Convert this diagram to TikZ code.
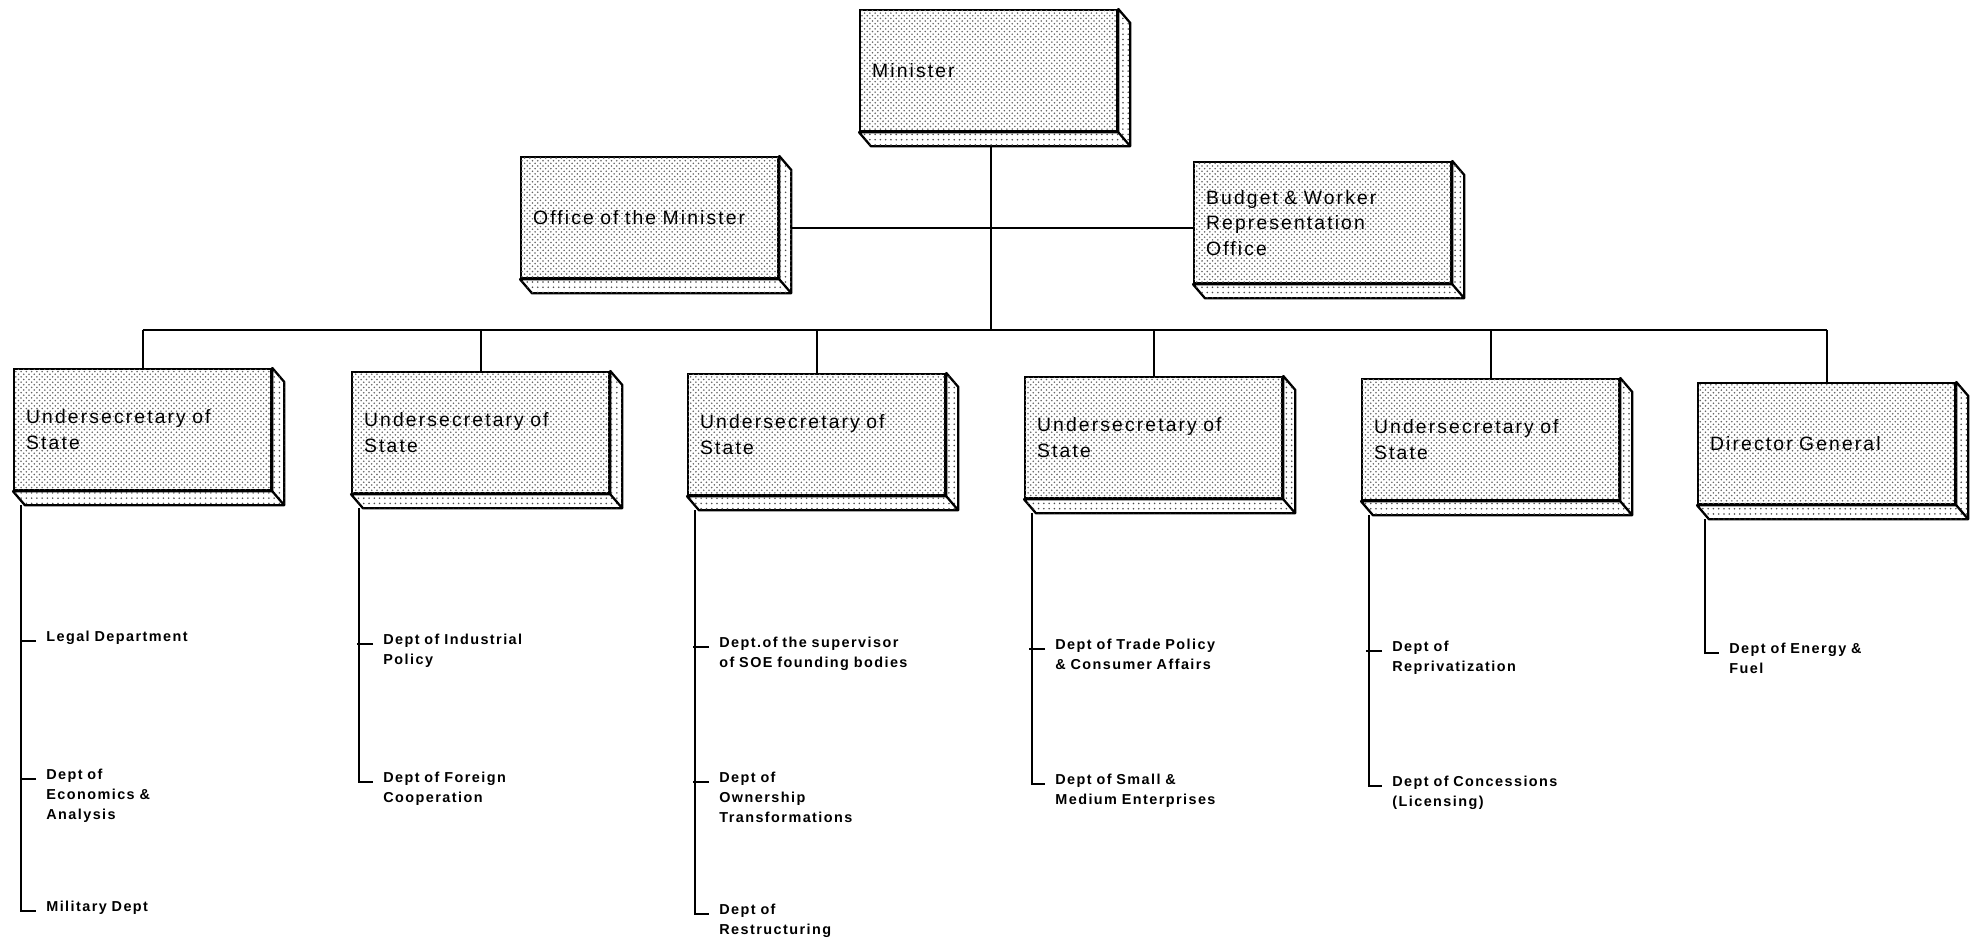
\documentclass[tikz,border=0pt]{standalone}
\usepackage{fontspec}
\setmainfont{Liberation Sans}
\newfontfamily\boxfont[LetterSpace=11]{Liberation Sans}
\newfontfamily\deptfont[LetterSpace=10]{Liberation Sans}
\usetikzlibrary{calc,patterns}

\tikzset{
  orgbox/.style={draw, line width=1.3pt, fill=white,
    postaction={pattern=crosshatch dots, pattern color=black!60},
    anchor=north west, minimum width=51.4mm, minimum height=24.2mm,
    text width=46.6mm, inner xsep=2.4mm, align=left,
    font=\boxfont\fontsize{11}{14.5}\selectfont},
  slab/.style={draw, line width=1.3pt, line join=round, fill=white,
    postaction={pattern=dots, pattern color=black!70}},
  link/.style={line width=1pt},
  deptline/.style={line width=1.3pt},
  dept/.style={anchor=base west, inner sep=0pt, text width=45mm, align=left,
    font=\deptfont\bfseries\fontsize{8.2}{11.4}\selectfont}
}

\begin{document}
\begin{tikzpicture}[x=0.2mm, y=-0.2mm]
  \useasboundingbox (0,0) rectangle (1977,941);

  % top level
  \node[orgbox] (min) at (859,9) {Minister};
  \node[orgbox] (off) at (520,156) {Office of the Minister};
  \node[orgbox] (bud) at (1193,161) {Budget \& Worker\\Representation\\Office};

  % second level
  \node[orgbox] (us1) at (13,368) {Undersecretary of\\State};
  \node[orgbox] (us2) at (351,371) {Undersecretary of\\State};
  \node[orgbox] (us3) at (687,373) {Undersecretary of\\State};
  \node[orgbox] (us4) at (1024,376) {Undersecretary of\\State};
  \node[orgbox] (us5) at (1361,378) {Undersecretary of\\State};
  \node[orgbox] (dg) at (1697,382) {Director General};

  % depth of the boxes
  \foreach \n in {min,off,bud,us1,us2,us3,us4,us5,dg}{
    \draw[slab] (\n.south west) -- ++(12,14) -| ($(\n.north east)+(12,14)$)
      -- (\n.north east) -- (\n.south east) -- cycle;
    \draw[deptline] (\n.south east) -- ++(12,14);
  }

  % connectors
  \coordinate (mid) at (991,228);
  \coordinate (bus) at (991,330);
  \draw[link] ($(bus |- min.south)+(0,14)$) -- (bus);
  \draw[link] ($(off.east |- mid)+(12,0)$) -- (bud.west |- mid);
  \draw[link] (us1.north |- bus) -- (dg.north |- bus);
  \foreach \n in {us1,us2,us3,us4,us5,dg}
    \draw[link] (\n.north |- bus) -- (\n.north);

  % departments
  \node[dept] (legal) at (46,641) {Legal Department};
  \node[dept] (econ) at (46,779) {Dept of\\Economics \&\\Analysis};
  \node[dept] (mil) at (46,911) {Military Dept};

  \node[dept] (indu) at (383,644) {Dept of Industrial\\Policy};
  \node[dept] (forg) at (383,782) {Dept of Foreign\\Cooperation};

  \node[dept] (soe) at (719,647) {Dept.of the supervisor\\of SOE founding bodies};
  \node[dept] (own) at (719,782) {Dept of\\Ownership\\Transformations};
  \node[dept] (restr) at (719,914) {Dept of\\Restructuring};

  \node[dept] (trade) at (1055,649) {Dept of Trade Policy\\\& Consumer Affairs};
  \node[dept] (sme) at (1055,784) {Dept of Small \&\\Medium Enterprises};

  \node[dept] (repr) at (1392,651) {Dept of\\Reprivatization};
  \node[dept] (conc) at (1392,786) {Dept of Concessions\\(Licensing)};

  \node[dept] (fuel) at (1729,653) {Dept of Energy \&\\Fuel};

  % department lines
  \draw[deptline] ($(us1.south west)+(8,14)$) |- ($(mil.base west)+(-10,0)$);
  \draw[deptline] ($(us2.south west)+(8,14)$) |- ($(forg.base west)+(-10,0)$);
  \draw[deptline] ($(us3.south west)+(8,14)$) |- ($(restr.base west)+(-10,0)$);
  \draw[deptline] ($(us4.south west)+(8,14)$) |- ($(sme.base west)+(-10,0)$);
  \draw[deptline] ($(us5.south west)+(8,14)$) |- ($(conc.base west)+(-10,0)$);
  \draw[deptline] ($(dg.south west)+(8,14)$) |- ($(fuel.base west)+(-10,0)$);
  \foreach \d in {legal,econ,indu,soe,own,trade,repr}
    \draw[deptline] ($(\d.base west)+(-10,0)$) -- ++(-16,0);
\end{tikzpicture}
\end{document}
